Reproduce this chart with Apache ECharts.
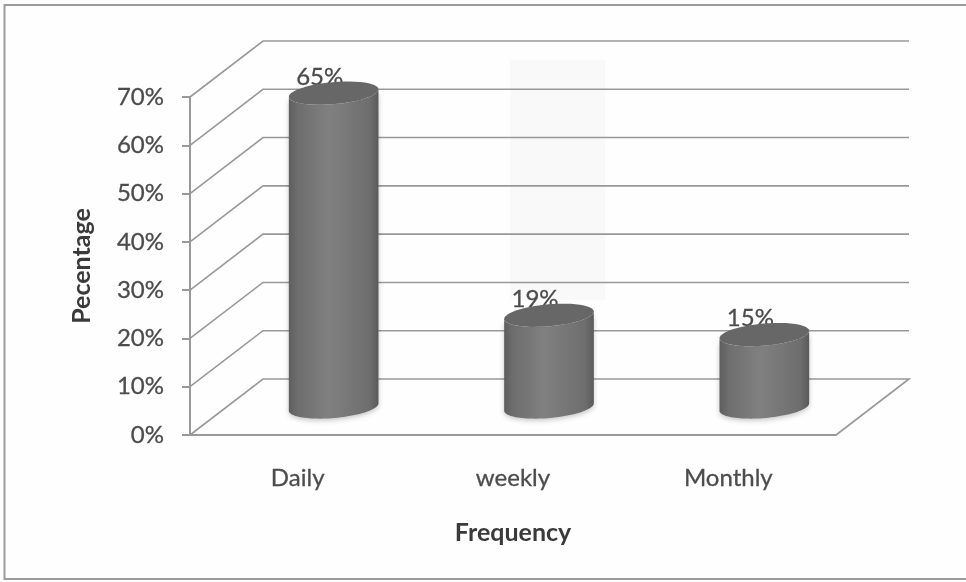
<!DOCTYPE html>
<html>
<head>
<meta charset="utf-8">
<style>
html,body{margin:0;padding:0;background:#fefefe}
#c{width:966px;height:582px;filter:blur(0.6px)}
</style>
<script src="https://cdn.jsdelivr.net/npm/echarts@6/dist/echarts.min.js"></script>
</head>
<body>
<div id="c"></div>
<script>
const categories = ['Daily', 'weekly', 'Monthly'];
const percentages = [65, 19, 15];
const gridTicks = [0, 10, 20, 30, 40, 50, 60, 70];

const FONT = 'Lato';
const TEXT = '#4c4c4c';
const LINE = '#999999';
const DEPTH_X = 73, DEPTH_Y = -56;
const MID_X = 36, MID_Y = -28;
const RX = 45, RY = 11, TILT = -5 * Math.PI / 180;

function ellipsePts(cx, cy, from, to) {
  const pts = [];
  for (let i = 0; i <= 48; i++) {
    const t = from + (to - from) * i / 48;
    pts.push([
      cx + RX * Math.cos(t) * Math.cos(TILT) - RY * Math.sin(t) * Math.sin(TILT),
      cy + RX * Math.cos(t) * Math.sin(TILT) + RY * Math.sin(t) * Math.cos(TILT)
    ]);
  }
  return pts;
}

function renderWall(params, api) {
  const cs = params.coordSys;
  const y = api.coord([0, api.value(1)])[1];
  const l = cs.x, r = cs.x + cs.width;
  const pts = [[l, y], [l + DEPTH_X, y + DEPTH_Y], [r + DEPTH_X, y + DEPTH_Y]];
  if (api.value(1) === 0) pts.push([r, y]);
  return { type: 'polyline', shape: { points: pts }, style: { stroke: LINE, lineWidth: 1.6, fill: null } };
}

function renderCylinder(params, api) {
  const base = api.coord([api.value(0), 0]);
  const top = api.coord([api.value(0), api.value(1)]);
  const cx = base[0] + MID_X, by = base[1] + MID_Y, ty = top[1] + MID_Y;
  const bottomArc = ellipsePts(cx, by, 0, Math.PI);
  const topArc = ellipsePts(cx, ty, Math.PI, 0);
  const side = bottomArc.concat(topArc);
  return {
    type: 'group',
    children: [
      { type: 'text', style: { text: api.value(1) + '%', x: cx - 14, y: ty - 16, align: 'center', verticalAlign: 'middle',
          font: '24px ' + FONT, fill: TEXT, stroke: TEXT, lineWidth: 0.3 } },
      { type: 'polygon', shape: { points: side }, style: {
          shadowBlur: 5, shadowColor: 'rgba(0,0,0,0.22)', shadowOffsetY: 2,
          fill: new echarts.graphic.LinearGradient(0, 0, 1, 0, [
            { offset: 0, color: '#5e5e5e' }, { offset: 0.1, color: '#6e6e6e' },
            { offset: 0.45, color: '#808080' }, { offset: 0.9, color: '#6e6e6e' }, { offset: 1, color: '#5a5a5a' }
          ]) } },
      { type: 'polygon', shape: { points: ellipsePts(cx, ty, 0, 2 * Math.PI) }, style: { fill: '#676767' } }
    ]
  };
}

const chart = echarts.init(document.getElementById('c'), null, { renderer: 'canvas' });
chart.setOption({
  animation: false,
  backgroundColor: '#fefefe',
  graphic: [
    { type: 'rect', z: -10, silent: true, shape: { x: 510, y: 60, width: 95, height: 240 }, style: { fill: '#f9f9f9' } },
    { type: 'rect', z: -9, silent: true, shape: { x: 4.5, y: 5, width: 980, height: 574 }, style: { fill: null, stroke: '#9c9c9c', lineWidth: 2 } }
  ],
  grid: { left: 190, top: 97, width: 646, height: 338 },
  xAxis: {
    type: 'category', data: categories,
    name: 'Frequency', nameLocation: 'middle', nameGap: 85,
    nameTextStyle: { fontFamily: FONT, fontSize: 25, fontWeight: 'bold', color: '#3a3a3a' },
    axisLine: { lineStyle: { color: LINE, width: 2 } },
    axisTick: { length: 8, lineStyle: { color: LINE, width: 2 } },
    axisLabel: { margin: 31, fontFamily: FONT, fontSize: 24, color: TEXT, textBorderColor: TEXT, textBorderWidth: 0.3 }
  },
  yAxis: {
    type: 'value', min: 0, max: 70, interval: 10,
    name: 'Pecentage', nameLocation: 'middle', nameGap: 96,
    nameTextStyle: { fontFamily: FONT, fontSize: 25, fontWeight: 'bold', color: '#3a3a3a' },
    axisLine: { show: true, lineStyle: { color: LINE, width: 2 } },
    axisTick: { show: true, length: 8, lineStyle: { color: LINE, width: 2 } },
    splitLine: { show: false },
    axisLabel: { margin: 26, padding: [7, 0, 0, 0], fontFamily: FONT, fontSize: 24, color: TEXT, textBorderColor: TEXT, textBorderWidth: 0.3, formatter: '{value}%' }
  },
  series: [
    { type: 'custom', name: 'wall', z: 1, silent: true, renderItem: renderWall,
      data: gridTicks.map(v => [0, v]), clip: false },
    { type: 'custom', name: 'Percentage', z: 2, silent: true, renderItem: renderCylinder,
      data: percentages.map((v, i) => [i, v]), clip: false }
  ]
});
</script>
</body>
</html>
